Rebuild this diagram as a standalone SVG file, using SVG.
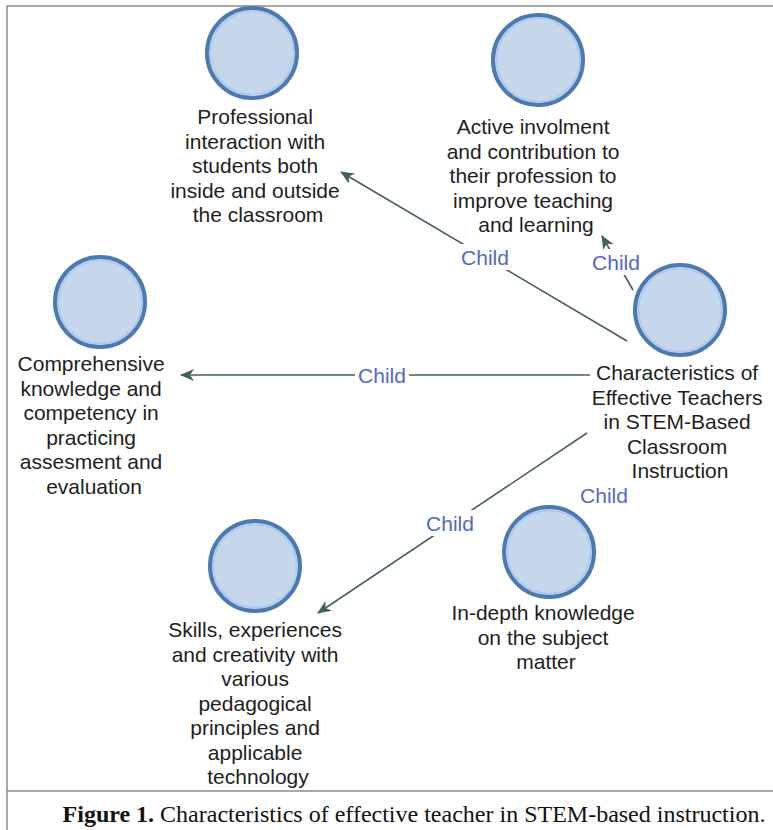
<svg xmlns="http://www.w3.org/2000/svg" width="773" height="830" viewBox="0 0 773 830">
  <style>
    .frame { stroke: #8c8c8c; stroke-width: 1.5; fill: none; }
    .node-ring { fill: #c6d6eb; stroke: #4c79b0; stroke-width: 4; }
    .node-inner { fill: none; stroke: #a9c9ef; stroke-width: 1.5; }
    .label { font-family: "Liberation Sans", Arial, sans-serif; font-size: 21px; fill: #1e1e1e; text-anchor: middle; }
    .edge { stroke: #43605c; stroke-width: 1.6; fill: none; marker-end: url(#arrow); }
    .edge-plain { stroke: #43605c; stroke-width: 1.6; fill: none; }
    .edge-label { font-family: "Liberation Sans", Arial, sans-serif; font-size: 21px; fill: #5668c4; text-anchor: middle; }
    .caption { font-family: "Liberation Serif", "Times New Roman", serif; font-size: 24px; fill: #111; text-anchor: middle; }
  </style>
  <defs>
    <marker id="arrow" viewBox="0 0 14 12" refX="13" refY="6" markerWidth="14" markerHeight="12" markerUnits="userSpaceOnUse" orient="auto">
      <path d="M0,0 L14,6 L0,12 L4,6 Z" fill="#43605c"/>
    </marker>
  </defs>

  <rect width="773" height="830" fill="#ffffff"/>

  <!-- outer frame and caption divider -->
  <g id="frame">
    <path class="frame" d="M7,830 V6 H773"/>
    <path class="frame" d="M7,791 H773"/>
  </g>

  <!-- connectors from the central node to its children -->
  <g id="connectors">
    <line class="edge" x1="627" y1="341" x2="341" y2="172"/>
    <line class="edge" x1="633" y1="290" x2="602" y2="236"/>
    <line class="edge" x1="590" y1="375" x2="181" y2="375"/>
    <line class="edge" x1="587" y1="433" x2="318" y2="613"/>
    <g id="edge-labels">
      <rect x="458" y="244" width="54" height="26" fill="#ffffff"/>
      <text class="edge-label" x="485" y="265">Child</text>
      <rect x="589" y="249" width="54" height="26" fill="#ffffff"/>
      <text class="edge-label" x="616" y="270">Child</text>
      <rect x="355" y="362" width="54" height="26" fill="#ffffff"/>
      <text class="edge-label" x="382" y="383">Child</text>
      <rect x="423" y="510" width="54" height="26" fill="#ffffff"/>
      <text class="edge-label" x="450" y="531">Child</text>
      <text class="edge-label" x="604" y="503">Child</text>
    </g>
  </g>

  <g id="node-professional">
    <circle class="node-ring" cx="252" cy="53" r="45"/>
    <circle class="node-inner" cx="252" cy="53" r="41.5"/>
    <text class="label" x="258">
      <tspan x="258" y="124">Professional</tspan>
      <tspan x="258" y="148.5">interaction with</tspan>
      <tspan x="258" y="173">students both</tspan>
      <tspan x="258" y="197.5">inside and outside</tspan>
      <tspan x="258" y="222">the classroom</tspan>
    </text>
  </g>

  <g id="node-active">
    <circle class="node-ring" cx="538" cy="60" r="45"/>
    <circle class="node-inner" cx="538" cy="60" r="41.5"/>
    <text class="label">
      <tspan x="536" y="134">Active involment</tspan>
      <tspan x="536" y="158.5">and contribution to</tspan>
      <tspan x="536" y="183">their profession to</tspan>
      <tspan x="536" y="207.5">improve teaching</tspan>
      <tspan x="536" y="232">and learning</tspan>
    </text>
  </g>

  <g id="node-comprehensive">
    <circle class="node-ring" cx="100" cy="302" r="45"/>
    <circle class="node-inner" cx="100" cy="302" r="41.5"/>
    <text class="label">
      <tspan x="94" y="371">Comprehensive</tspan>
      <tspan x="94" y="395.5">knowledge and</tspan>
      <tspan x="94" y="420">competency in</tspan>
      <tspan x="94" y="444.5">practicing</tspan>
      <tspan x="94" y="469">assesment and</tspan>
      <tspan x="94" y="493.5">evaluation</tspan>
    </text>
  </g>

  <g id="node-characteristics">
    <circle class="node-ring" cx="680" cy="310" r="45"/>
    <circle class="node-inner" cx="680" cy="310" r="41.5"/>
    <text class="label">
      <tspan x="680" y="380">Characteristics of</tspan>
      <tspan x="680" y="404.5">Effective Teachers</tspan>
      <tspan x="680" y="429">in STEM-Based</tspan>
      <tspan x="680" y="453.5">Classroom</tspan>
      <tspan x="680" y="478">Instruction</tspan>
    </text>
  </g>

  <g id="node-skills">
    <circle class="node-ring" cx="255" cy="566" r="45"/>
    <circle class="node-inner" cx="255" cy="566" r="41.5"/>
    <text class="label">
      <tspan x="258" y="637">Skills, experiences</tspan>
      <tspan x="258" y="661.5">and creativity with</tspan>
      <tspan x="258" y="686">various</tspan>
      <tspan x="258" y="710.5">pedagogical</tspan>
      <tspan x="258" y="735">principles and</tspan>
      <tspan x="258" y="759.5">applicable</tspan>
      <tspan x="258" y="784">technology</tspan>
    </text>
  </g>

  <g id="node-indepth">
    <circle class="node-ring" cx="549" cy="552" r="45"/>
    <circle class="node-inner" cx="549" cy="552" r="41.5"/>
    <text class="label">
      <tspan x="546" y="620">In-depth knowledge</tspan>
      <tspan x="546" y="644.5">on the subject</tspan>
      <tspan x="546" y="669">matter</tspan>
    </text>
  </g>

  <g id="caption">
    <text class="caption" x="414" y="822"><tspan font-weight="bold">Figure 1.</tspan> Characteristics of effective teacher in STEM-based instruction.</text>
  </g>
</svg>
